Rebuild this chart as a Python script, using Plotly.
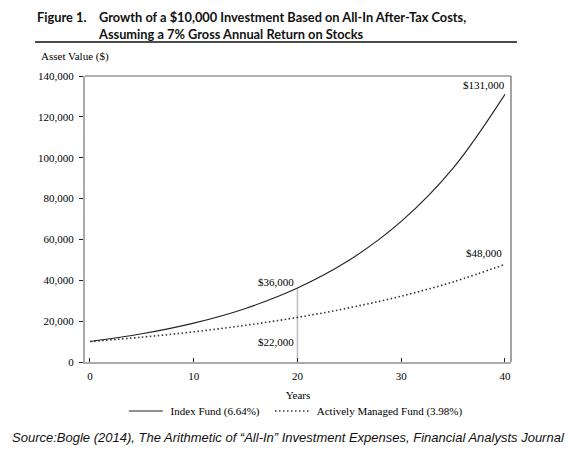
import plotly.graph_objects as go

years = [0, 5, 10, 15, 20, 25, 30, 35, 40]
index_fund = [10000, 13790, 19020, 26230, 36200, 49890, 68800, 94890, 131000]
active_fund = [10000, 12150, 14770, 17960, 21830, 26530, 32250, 39190, 47800]
x_ticks = [0, 10, 20, 30, 40]
y_ticks = [0, 20000, 40000, 60000, 80000, 100000, 120000, 140000]
y_tick_labels = ["0", "20,000", "40,000", "60,000", "80,000", "100,000", "120,000", "140,000"]

SERIF = "Liberation Serif"
TITLE_FONT = "Lato"
NB = "\u00a0"
fig = go.Figure()
fig.add_trace(go.Scatter(x=years, y=index_fund, mode="lines", line_shape="spline",
                         line=dict(color="#222222", width=1.1), name=NB + "Index Fund (6.64%)" + NB * 2))
fig.add_trace(go.Scatter(x=years, y=active_fund, mode="lines", line_shape="spline",
                         line=dict(color="#333333", width=1.6, dash="1.5px,2.5px"),
                         name=NB + "Actively Managed Fund (3.98%)"))

# vertical marker at year 20
fig.add_shape(type="line", xref="x", yref="y", x0=20, x1=20, y0=0, y1=index_fund[4],
              line=dict(color="#bbbbbb", width=1.5), layer="below")
# top and right frame
fig.add_shape(type="line", xref="paper", yref="paper", x0=0, x1=1, y0=1, y1=1,
              line=dict(color="#666666", width=1.2))
fig.add_shape(type="line", xref="paper", yref="paper", x0=1, x1=1, y0=0, y1=1,
              line=dict(color="#666666", width=1.2))

# value labels
fig.add_annotation(x=40, y=131000, text="$131,000", showarrow=False, xanchor="right",
                   yanchor="middle", xshift=2, yshift=9, font=dict(family=SERIF, size=11, color="black"))
fig.add_annotation(x=40, y=48000, text="$48,000", showarrow=False, xanchor="right",
                   yanchor="middle", xshift=-1, yshift=11, font=dict(family=SERIF, size=11, color="black"))
fig.add_annotation(x=20, y=36000, text="$36,000", showarrow=False, xanchor="right",
                   yanchor="middle", xshift=-1, yshift=6, font=dict(family=SERIF, size=11, color="black"))
fig.add_annotation(x=20, y=22000, text="$22,000", showarrow=False, xanchor="right",
                   yanchor="middle", xshift=-1, yshift=-25, font=dict(family=SERIF, size=11, color="black"))

# title
fig.add_annotation(xref="paper", yref="paper", x=-50/426, y=1+59/286, text="<b>Figure 1.</b>",
                   showarrow=False, xanchor="left", yanchor="middle",
                   font=dict(family=TITLE_FONT, size=12.8, color="#111111"))
fig.add_annotation(xref="paper", yref="paper", x=11/426, y=1+51/286,
                   text="<b>Growth of a $10,000 Investment Based on All-In After-Tax Costs,<br>Assuming a 7% Gross Annual Return on Stocks</b>",
                   showarrow=False, xanchor="left", yanchor="middle", align="left",
                   font=dict(family=TITLE_FONT, size=12.8, color="#111111"))
fig.add_shape(type="line", xref="paper", yref="paper", x0=-50/426, x1=432/426,
              y0=1+34/286, y1=1+34/286, line=dict(color="#111111", width=1.5))
fig.add_annotation(xref="paper", yref="paper", x=-46/426, y=1+19/286, text="Asset Value ($)",
                   showarrow=False, xanchor="left", yanchor="middle",
                   font=dict(family=SERIF, size=11, color="black"))
fig.add_annotation(xref="paper", yref="paper", x=-75/426, y=-75/286,
                   text="<i>Source:Bogle (2014), The Arithmetic of “All-In” Investment Expenses, Financial Analysts Journal</i>",
                   showarrow=False, xanchor="left", yanchor="middle",
                   font=dict(family="Liberation Sans", size=13, color="#111111"))

# page body has an 8px margin, so the figure is drawn 8px smaller than the window
fig.update_layout(
    width=569, height=450,
    margin=dict(l=77, r=66, t=68, b=96, autoexpand=False),
    paper_bgcolor="white", plot_bgcolor="white",
    showlegend=True,
    legend=dict(orientation="h", x=0.495, xanchor="center", y=-49/286, yanchor="middle",
                itemwidth=34,
                font=dict(family=SERIF, size=11, color="black"), bgcolor="rgba(0,0,0,0)"),
    xaxis=dict(range=[-0.48, 40.58], tickvals=x_ticks, showgrid=False, zeroline=False,
               showline=True, linecolor="#aaaaaa", linewidth=2, automargin=False,
               ticks="inside", ticklen=4, tickcolor="#222222", ticklabelstandoff=3,
               tickfont=dict(family=SERIF, size=11, color="black"),
               title=dict(text="Years", font=dict(family=SERIF, size=11, color="black"), standoff=10)),
    yaxis=dict(range=[0, 140000], tickvals=y_ticks, ticktext=y_tick_labels, showgrid=False,
               zeroline=False, showline=True, linecolor="#aaaaaa", linewidth=2, automargin=False,
               ticks="outside", ticklen=4, tickcolor="#222222", ticklabelstandoff=3,
               tickfont=dict(family=SERIF, size=11, color="black")),
)

fig.write_html("out.html")
